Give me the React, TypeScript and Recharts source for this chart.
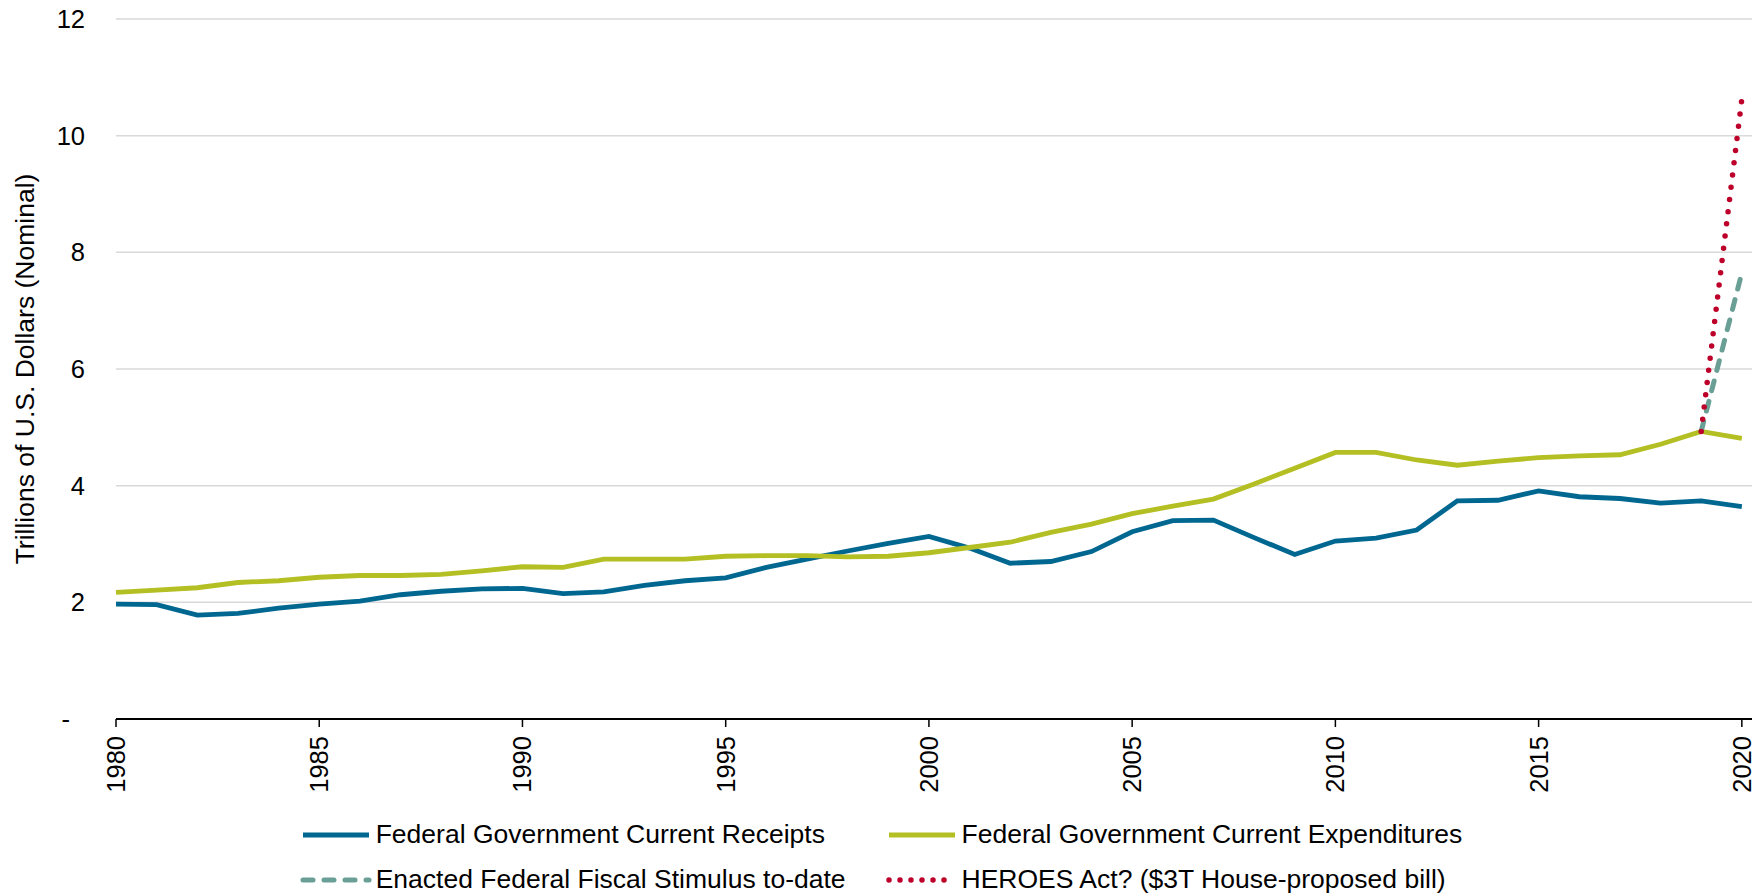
import { LineChart, Line, XAxis, YAxis, CartesianGrid, Label } from "recharts";

const years = [
  1980, 1981, 1982, 1983, 1984, 1985, 1986, 1987, 1988, 1989,
  1990, 1991, 1992, 1993, 1994, 1995, 1996, 1997, 1998, 1999,
  2000, 2001, 2002, 2003, 2004, 2005, 2006, 2007, 2008, 2009,
  2010, 2011, 2012, 2013, 2014, 2015, 2016, 2017, 2018, 2019,
  2020,
];

const receipts = [
  1.97, 1.96, 1.78, 1.81, 1.9, 1.97, 2.02, 2.13, 2.19, 2.23,
  2.24, 2.15, 2.18, 2.29, 2.37, 2.42, 2.6, 2.74, 2.88, 3.01,
  3.13, 2.93, 2.67, 2.7, 2.87, 3.21, 3.4, 3.41, 3.11, 2.82,
  3.05, 3.1, 3.24, 3.74, 3.75, 3.91, 3.81, 3.78, 3.7, 3.74,
  3.64,
];

const expenditures = [
  2.17, 2.21, 2.25, 2.34, 2.37, 2.43, 2.46, 2.46, 2.48, 2.54,
  2.61, 2.6, 2.74, 2.74, 2.74, 2.79, 2.8, 2.8, 2.78, 2.79,
  2.85, 2.94, 3.03, 3.2, 3.34, 3.52, 3.65, 3.77, 4.03, 4.3,
  4.57, 4.57, 4.44, 4.35, 4.42, 4.48, 4.51, 4.53, 4.71, 4.93,
  4.81,
];

// only the last two years carry the stimulus projections
const stimulus: Record<number, number> = { 2019: 4.93, 2020: 7.65 };
const heroes: Record<number, number> = { 2019: 4.93, 2020: 10.63 };

const xTicks = [1980, 1985, 1990, 1995, 2000, 2005, 2010, 2015, 2020];
const yTicks = [0, 2, 4, 6, 8, 10, 12];

const FONT = "'Liberation Sans', Arial, Helvetica, sans-serif";
const FS = 26.5;
const TICK_FS = 25.5;

const BLUE = "#006790";
const GREEN = "#b3bf22";
const TEAL = "#6a9f96";
const RED = "#bd0029";

const data = years.map((y, i) => ({
  year: y,
  receipts: receipts[i],
  expenditures: expenditures[i],
  stimulus: stimulus[y] ?? null,
  heroes: heroes[y] ?? null,
}));

const legendItems = [
  { name: "Federal Government Current Receipts", color: BLUE, dash: undefined, width: 5 },
  { name: "Federal Government Current Expenditures", color: GREEN, dash: undefined, width: 5 },
  { name: "Enacted Federal Fiscal Stimulus to-date", color: TEAL, dash: "10 11", width: 5 },
  { name: "HEROES Act? ($3T House-proposed bill)", color: RED, dash: "0 11", width: 5.5 },
];

function XTick(props: any) {
  const { x, y, payload } = props;
  return (
    <text
      x={x}
      y={y}
      transform={`rotate(-90, ${x}, ${y})`}
      textAnchor="end"
      dy="0.35em"
      fontSize={TICK_FS}
      fontFamily={FONT}
      fill="#000"
    >
      {payload.value}
    </text>
  );
}

function YTick(props: any) {
  const { x, y, payload } = props;
  const isZero = payload.value === 0;
  return (
    <text
      x={isZero ? x - 15 : x}
      y={y}
      textAnchor="end"
      dy="0.35em"
      fontSize={TICK_FS}
      fontFamily={FONT}
      fill="#000"
    >
      {isZero ? "-" : payload.value}
    </text>
  );
}

function YLabel(props: any) {
  const { viewBox } = props;
  const cx = 25;
  const cy = viewBox.y + viewBox.height / 2;
  return (
    <text
      x={cx}
      y={cy}
      transform={`rotate(-90, ${cx}, ${cy})`}
      textAnchor="middle"
      dy="0.35em"
      fontSize={FS}
      fontFamily={FONT}
      fill="#000"
    >
      Trillions of U.S. Dollars (Nominal)
    </text>
  );
}

export default function App() {
  return (
    <div
      style={{
        position: "absolute",
        top: 0,
        left: 0,
        width: 1762,
        height: 896,
        background: "#fff",
        fontFamily: FONT,
      }}
    >
      <LineChart
        width={1762}
        height={896}
        data={data}
        margin={{ top: 19, right: 10, bottom: 87, left: 0 }}
      >
        <CartesianGrid
          horizontal
          vertical={false}
          stroke="#d9d9d9"
          strokeWidth={1.5}
        />
        <XAxis
          dataKey="year"
          type="number"
          domain={[1980, 2020.25]}
          ticks={xTicks}
          interval={0}
          height={90}
          tickSize={8}
          tickMargin={9}
          axisLine={{ stroke: "#000", strokeWidth: 2 }}
          tickLine={{ stroke: "#000", strokeWidth: 1.5 }}
          tick={<XTick />}
        />
        <YAxis
          type="number"
          domain={[0, 12]}
          ticks={yTicks}
          width={116}
          axisLine={false}
          tickLine={false}
          tickSize={0}
          tickMargin={31}
          tick={<YTick />}
        >
          <Label content={<YLabel />} />
        </YAxis>
        <Line
          dataKey="receipts"
          stroke={BLUE}
          strokeWidth={4.8}
          dot={false}
          isAnimationActive={false}
        />
        <Line
          dataKey="expenditures"
          stroke={GREEN}
          strokeWidth={4.8}
          dot={false}
          isAnimationActive={false}
        />
        <Line
          dataKey="stimulus"
          stroke={TEAL}
          strokeWidth={5}
          strokeDasharray="10 11"
          strokeLinecap="round"
          dot={false}
          isAnimationActive={false}
        />
        <Line
          dataKey="heroes"
          stroke={RED}
          strokeWidth={5.5}
          strokeDasharray="0 12.3"
          strokeLinecap="round"
          dot={false}
          isAnimationActive={false}
        />
      </LineChart>

      <div
        style={{
          position: "absolute",
          top: 812,
          left: 0,
          width: 1762,
          display: "flex",
          justifyContent: "center",
        }}
      >
        <div
          style={{
            display: "grid",
            gridTemplateColumns: "auto auto",
            columnGap: 40,
            rowGap: 0,
          }}
        >
          {legendItems.map((item) => (
            <div
              key={item.name}
              style={{
                display: "flex",
                alignItems: "center",
                height: 45,
                fontSize: FS,
                color: "#000",
                whiteSpace: "nowrap",
              }}
            >
              <svg width={72} height={12} style={{ marginRight: 4 }}>
                <line
                  x1={3}
                  y1={6}
                  x2={69}
                  y2={6}
                  stroke={item.color}
                  strokeWidth={item.width}
                  strokeDasharray={item.dash}
                  strokeLinecap={item.dash ? "round" : "butt"}
                />
              </svg>
              <span>{item.name}</span>
            </div>
          ))}
        </div>
      </div>
    </div>
  );
}
